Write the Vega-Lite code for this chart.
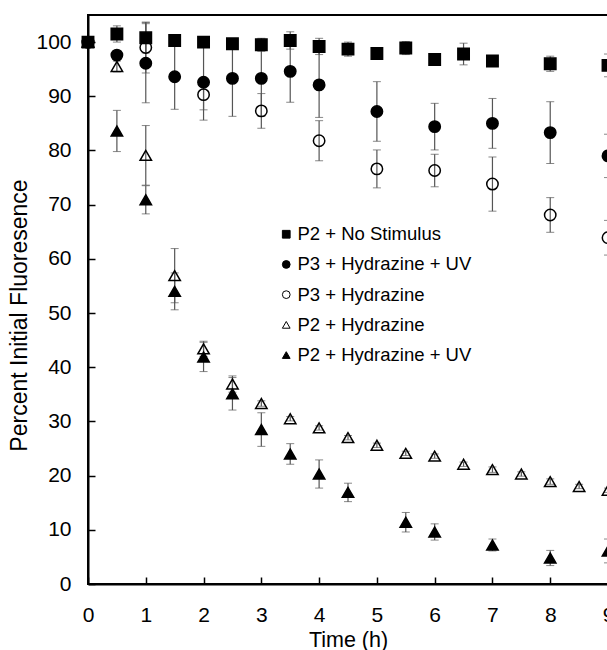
{
  "$schema": "https://vega.github.io/schema/vega-lite/v6.json",
  "autosize": "none",
  "padding": {"left": 88, "top": 15, "right": 0, "bottom": 66},
  "width": 520,
  "height": 569,
  "background": "white",
  "config": {
    "font": "Liberation Sans",
    "view": {"stroke": "black", "strokeWidth": 2},
    "axis": {"grid": false, "domainColor": "black", "domainWidth": 2, "tickColor": "black", "tickWidth": 1.5, "labelFontSize": 21, "labelColor": "black", "titleFontSize": 21, "titleFontWeight": "normal", "titleColor": "black", "labelFlush": false, "labelOverlap": false, "format": "d"}
  },
  "data": {"values": [
    {"series": "P2 + No Stimulus", "t": 0, "v": 100, "e": 0},
    {"series": "P2 + No Stimulus", "t": 0.5, "v": 101.5, "e": 1.5},
    {"series": "P2 + No Stimulus", "t": 1, "v": 100.8, "e": 2.8},
    {"series": "P2 + No Stimulus", "t": 1.5, "v": 100.3, "e": 0},
    {"series": "P2 + No Stimulus", "t": 2, "v": 100.0, "e": 0},
    {"series": "P2 + No Stimulus", "t": 2.5, "v": 99.7, "e": 0},
    {"series": "P2 + No Stimulus", "t": 3, "v": 99.5, "e": 1.2},
    {"series": "P2 + No Stimulus", "t": 3.5, "v": 100.3, "e": 1.6},
    {"series": "P2 + No Stimulus", "t": 4, "v": 99.2, "e": 1.5},
    {"series": "P2 + No Stimulus", "t": 4.5, "v": 98.7, "e": 1.3},
    {"series": "P2 + No Stimulus", "t": 5, "v": 97.9, "e": 1.1},
    {"series": "P2 + No Stimulus", "t": 5.5, "v": 98.9, "e": 1.2},
    {"series": "P2 + No Stimulus", "t": 6, "v": 96.8, "e": 0},
    {"series": "P2 + No Stimulus", "t": 6.5, "v": 97.8, "e": 2.0},
    {"series": "P2 + No Stimulus", "t": 7, "v": 96.5, "e": 0},
    {"series": "P2 + No Stimulus", "t": 8, "v": 96.0, "e": 1.4},
    {"series": "P2 + No Stimulus", "t": 9, "v": 95.7, "e": 2.1},
    {"series": "P3 + Hydrazine + UV", "t": 0, "v": 100, "e": 0},
    {"series": "P3 + Hydrazine + UV", "t": 0.5, "v": 97.6, "e": 0},
    {"series": "P3 + Hydrazine + UV", "t": 1, "v": 96.1, "e": 7.3},
    {"series": "P3 + Hydrazine + UV", "t": 1.5, "v": 93.6, "e": 6.0},
    {"series": "P3 + Hydrazine + UV", "t": 2, "v": 92.6, "e": 7.0},
    {"series": "P3 + Hydrazine + UV", "t": 2.5, "v": 93.3, "e": 7.0},
    {"series": "P3 + Hydrazine + UV", "t": 3, "v": 93.3, "e": 7.0},
    {"series": "P3 + Hydrazine + UV", "t": 3.5, "v": 94.6, "e": 5.7},
    {"series": "P3 + Hydrazine + UV", "t": 4, "v": 92.1, "e": 6.0},
    {"series": "P3 + Hydrazine + UV", "t": 5, "v": 87.2, "e": 5.5},
    {"series": "P3 + Hydrazine + UV", "t": 6, "v": 84.4, "e": 4.3},
    {"series": "P3 + Hydrazine + UV", "t": 7, "v": 85.0, "e": 4.6},
    {"series": "P3 + Hydrazine + UV", "t": 8, "v": 83.3, "e": 5.7},
    {"series": "P3 + Hydrazine + UV", "t": 9, "v": 79.0, "e": 4.0},
    {"series": "P3 + Hydrazine", "t": 0, "v": 100, "e": 0},
    {"series": "P3 + Hydrazine", "t": 1, "v": 99.0, "e": 4.7},
    {"series": "P3 + Hydrazine", "t": 2, "v": 90.3, "e": 2.8},
    {"series": "P3 + Hydrazine", "t": 3, "v": 87.3, "e": 3.2},
    {"series": "P3 + Hydrazine", "t": 4, "v": 81.8, "e": 3.7},
    {"series": "P3 + Hydrazine", "t": 5, "v": 76.6, "e": 3.5},
    {"series": "P3 + Hydrazine", "t": 6, "v": 76.3, "e": 3.0},
    {"series": "P3 + Hydrazine", "t": 7, "v": 73.8, "e": 5.0},
    {"series": "P3 + Hydrazine", "t": 8, "v": 68.1, "e": 3.2},
    {"series": "P3 + Hydrazine", "t": 9, "v": 63.9, "e": 3.2},
    {"series": "P2 + Hydrazine", "t": 0, "v": 100, "e": 0},
    {"series": "P2 + Hydrazine", "t": 0.5, "v": 95.5, "e": 1.0},
    {"series": "P2 + Hydrazine", "t": 1, "v": 79.1, "e": 5.5},
    {"series": "P2 + Hydrazine", "t": 1.5, "v": 56.9, "e": 5.0},
    {"series": "P2 + Hydrazine", "t": 2, "v": 43.4, "e": 1.4},
    {"series": "P2 + Hydrazine", "t": 2.5, "v": 36.9, "e": 1.5},
    {"series": "P2 + Hydrazine", "t": 3, "v": 33.3, "e": 0.5},
    {"series": "P2 + Hydrazine", "t": 3.5, "v": 30.5, "e": 0.4},
    {"series": "P2 + Hydrazine", "t": 4, "v": 28.8, "e": 0.4},
    {"series": "P2 + Hydrazine", "t": 4.5, "v": 27.0, "e": 0.4},
    {"series": "P2 + Hydrazine", "t": 5, "v": 25.6, "e": 0.4},
    {"series": "P2 + Hydrazine", "t": 5.5, "v": 24.1, "e": 0.4},
    {"series": "P2 + Hydrazine", "t": 6, "v": 23.6, "e": 0.4},
    {"series": "P2 + Hydrazine", "t": 6.5, "v": 22.1, "e": 0.4},
    {"series": "P2 + Hydrazine", "t": 7, "v": 21.1, "e": 0.5},
    {"series": "P2 + Hydrazine", "t": 7.5, "v": 20.3, "e": 0.4},
    {"series": "P2 + Hydrazine", "t": 8, "v": 18.9, "e": 0.5},
    {"series": "P2 + Hydrazine", "t": 8.5, "v": 18.0, "e": 0.4},
    {"series": "P2 + Hydrazine", "t": 9, "v": 17.3, "e": 0.4},
    {"series": "P2 + Hydrazine + UV", "t": 0, "v": 100, "e": 0},
    {"series": "P2 + Hydrazine + UV", "t": 0.5, "v": 83.6, "e": 3.8},
    {"series": "P2 + Hydrazine + UV", "t": 1, "v": 70.9, "e": 2.6},
    {"series": "P2 + Hydrazine + UV", "t": 1.5, "v": 54.0, "e": 3.4},
    {"series": "P2 + Hydrazine + UV", "t": 2, "v": 41.9, "e": 2.7},
    {"series": "P2 + Hydrazine + UV", "t": 2.5, "v": 35.1, "e": 3.0},
    {"series": "P2 + Hydrazine + UV", "t": 3, "v": 28.5, "e": 3.1},
    {"series": "P2 + Hydrazine + UV", "t": 3.5, "v": 24.0, "e": 1.9},
    {"series": "P2 + Hydrazine + UV", "t": 4, "v": 20.3, "e": 2.6},
    {"series": "P2 + Hydrazine + UV", "t": 4.5, "v": 16.9, "e": 1.7},
    {"series": "P2 + Hydrazine + UV", "t": 5.5, "v": 11.4, "e": 1.8},
    {"series": "P2 + Hydrazine + UV", "t": 6, "v": 9.6, "e": 1.5},
    {"series": "P2 + Hydrazine + UV", "t": 7, "v": 7.2, "e": 1.1},
    {"series": "P2 + Hydrazine + UV", "t": 8, "v": 4.8, "e": 1.4},
    {"series": "P2 + Hydrazine + UV", "t": 9, "v": 6.1, "e": 2.2}
  ]},
  "layer": [
    {
      "transform": [{"filter": "datum.e > 0"}],
      "mark": {"type": "errorbar", "ticks": {"size": 8, "color": "#555555", "strokeWidth": 1.2}, "rule": {"color": "#555555", "strokeWidth": 1.2}},
      "encoding": {
        "x": {"field": "t", "type": "quantitative", "scale": {"domain": [0, 9]}, "title": "Time (h)"},
        "y": {"field": "v", "type": "quantitative", "scale": {"domain": [0, 105]}, "title": "Percent Initial Fluoresence"},
        "yError": {"field": "e"}
      }
    },
    {
      "mark": {"type": "point", "filled": false, "strokeWidth": 1.5, "opacity": 1},
      "encoding": {
        "x": {"field": "t", "type": "quantitative", "scale": {"domain": [0, 9]}, "title": "Time (h)",
          "axis": {"values": [0,1,2,3,4,5,6,7,8,9], "format": "d", "tickSize": -7, "labelPadding": 27, "titlePadding": 4, "titleFontSize": 21.5}},
        "y": {"field": "v", "type": "quantitative", "scale": {"domain": [0, 105]}, "title": "Percent Initial Fluoresence",
          "axis": {"values": [0,10,20,30,40,50,60,70,80,90,100], "format": "d", "tickSize": -7, "labelPadding": 24, "titlePadding": 4, "titleFontSize": 23, "titleY": 300}},
        "shape": {"field": "series", "type": "nominal",
          "scale": {"domain": ["P2 + No Stimulus", "P3 + Hydrazine + UV", "P3 + Hydrazine", "P2 + Hydrazine", "P2 + Hydrazine + UV"],
                    "range": ["square", "circle", "circle", "triangle-up", "triangle-up"]},
          "legend": {"title": null, "orient": "none", "legendX": 189, "legendY": 210, "labelFontSize": 18.5, "labelColor": "black", "labelLimit": 400, "symbolSize": 60, "symbolStrokeWidth": 1, "rowPadding": 11.2, "labelOffset": 2, "padding": 0}},
        "fill": {"field": "series", "type": "nominal",
          "scale": {"domain": ["P2 + No Stimulus", "P3 + Hydrazine + UV", "P3 + Hydrazine", "P2 + Hydrazine", "P2 + Hydrazine + UV"],
                    "range": ["black", "black", "transparent", "transparent", "black"]},
          "legend": {"title": null, "orient": "none", "legendX": 189, "legendY": 210, "labelFontSize": 18.5, "labelColor": "black", "labelLimit": 400, "symbolSize": 60, "symbolStrokeWidth": 1, "rowPadding": 11.2, "labelOffset": 2, "padding": 0}},
        "stroke": {"field": "series", "type": "nominal",
          "scale": {"domain": ["P2 + No Stimulus", "P3 + Hydrazine + UV", "P3 + Hydrazine", "P2 + Hydrazine", "P2 + Hydrazine + UV"],
                    "range": ["black", "black", "black", "black", "black"]},
          "legend": {"title": null, "orient": "none", "legendX": 189, "legendY": 210, "labelFontSize": 18.5, "labelColor": "black", "labelLimit": 400, "symbolSize": 60, "symbolStrokeWidth": 1, "rowPadding": 11.2, "labelOffset": 2, "padding": 0}},
        "size": {"value": 130}
      }
    }
  ]
}
